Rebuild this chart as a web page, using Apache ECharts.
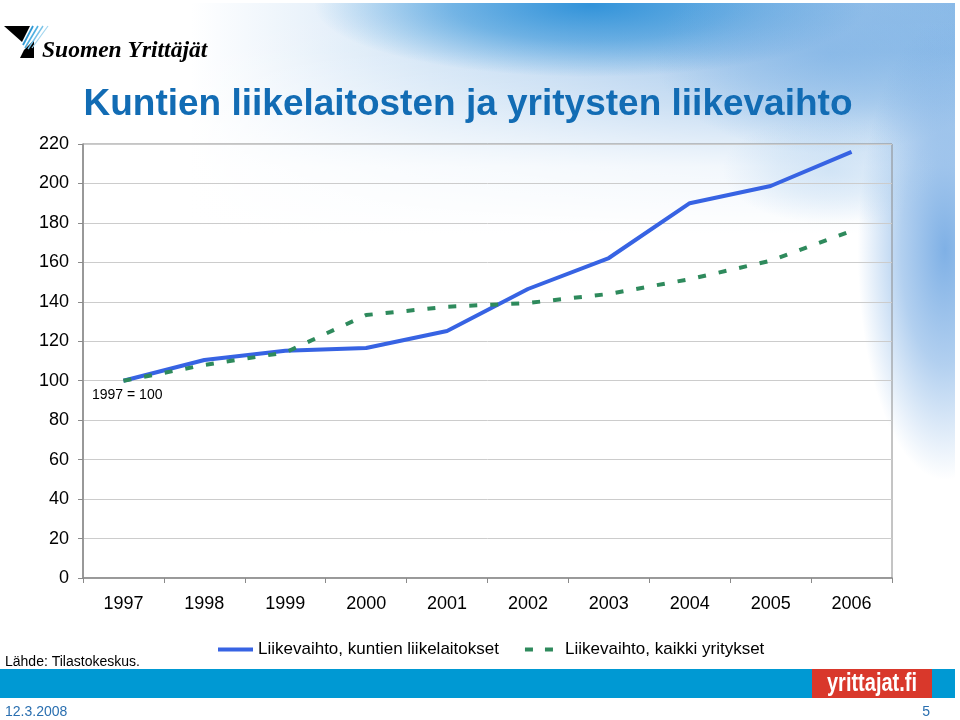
<!DOCTYPE html>
<html>
<head>
<meta charset="utf-8">
<script src="https://cdn.jsdelivr.net/npm/echarts@6/dist/echarts.min.js"></script>
<style>html,body{margin:0;padding:0;background:#fff}#c{width:960px;height:720px}</style>
</head>
<body>
<div id="c"></div>
<script>
const years = ['1997','1998','1999','2000','2001','2002','2003','2004','2005','2006'];
const kuntienLiikelaitokset = [100, 110.5, 115.2, 116.6, 125.2, 146.5, 162.2, 190, 198.7, 216];
const kaikkiYritykset = [100, 108, 114.3, 133.3, 137.5, 139.4, 144, 151.5, 160.8, 176];
const seriesNames = ['Liikevaihto, kuntien liikelaitokset', 'Liikevaihto, kaikki yritykset'];
const yTicks = {min: 0, max: 220, interval: 20};

const chart = echarts.init(document.getElementById('c'));
const F = '"Liberation Sans", Arial, Helvetica, sans-serif';

function blob(cx, cy, r, sx, sy, color, a, z) {
  return {
    type: 'circle', z: z || -18, silent: true, x: cx, y: cy, scaleX: sx, scaleY: sy,
    shape: {cx: 0, cy: 0, r: r},
    style: {fill: {type: 'radial', x: 0.5, y: 0.5, r: 0.5, colorStops: [
      {offset: 0, color: 'rgba(' + color + ',' + a + ')'},
      {offset: 0.5, color: 'rgba(' + color + ',' + (a * 0.6) + ')'},
      {offset: 1, color: 'rgba(' + color + ',0)'}]}}
  };
}

chart.setOption({
  animation: false,
  backgroundColor: '#ffffff',
  graphic: [
    // sky background
    {type: 'rect', z: -22, silent: true, shape: {x: 0, y: 0, width: 955, height: 520},
     style: {fill: {type: 'linear', x: 0, y: 0, x2: 1, y2: 0, colorStops: [
       {offset: 0, color: '#ffffff'},
       {offset: 0.2, color: '#ffffff'},
       {offset: 0.45, color: '#d3e5f6'},
       {offset: 0.7, color: '#b0cfee'},
       {offset: 1, color: '#8cbbe8'}]}}},
    {type: 'rect', z: -21, silent: true, shape: {x: 0, y: 0, width: 955, height: 520},
     style: {fill: {type: 'linear', x: 0, y: 0, x2: 0, y2: 1, colorStops: [
       {offset: 0, color: 'rgba(255,255,255,0)'},
       {offset: 0.1, color: 'rgba(255,255,255,0.05)'},
       {offset: 0.2, color: 'rgba(255,255,255,0.35)'},
       {offset: 0.32, color: 'rgba(255,255,255,0.85)'},
       {offset: 0.45, color: 'rgba(255,255,255,1)'},
       {offset: 1, color: 'rgba(255,255,255,1)'}]}}},
    blob(590, 5, 120, 2.3, 0.6, '35,140,215', 0.9),
    blob(830, 55, 110, 1.6, 0.9, '120,175,228', 0.55),
    blob(945, 250, 230, 0.38, 1, '120,172,228', 0.95),
    blob(830, 170, 90, 1.2, 0.6, '170,205,238', 0.45),
    {type: 'rect', z: -15, silent: true, shape: {x: 955, y: 0, width: 5, height: 720}, style: {fill: '#ffffff'}},
    {type: 'rect', z: -15, silent: true, shape: {x: 0, y: 0, width: 960, height: 3}, style: {fill: '#ffffff'}},
    // logo
    {type: 'polygon', z: 10, shape: {points: [[4,26],[30,26],[22,42]]}, style: {fill: '#000'}},
    {type: 'polygon', z: 10, shape: {points: [[34,40],[34,58],[20,58],[24,50]]}, style: {fill: '#000'}},
    {type: 'polyline', z: 10, shape: {points: [[33,26],[23,45]]}, style: {stroke: '#2f98d4', lineWidth: 1.8}},
    {type: 'polyline', z: 10, shape: {points: [[38,26],[25,48]]}, style: {stroke: '#4fb0e0', lineWidth: 1.6}},
    {type: 'polyline', z: 10, shape: {points: [[43,26],[28,49]]}, style: {stroke: '#78c3e8', lineWidth: 1.4}},
    {type: 'polyline', z: 10, shape: {points: [[48,26],[32,48]]}, style: {stroke: '#a3d6ef', lineWidth: 1.2}},
    {type: 'text', z: 10, style: {text: 'Suomen Yrittäjät', x: 42, y: 51, textVerticalAlign: 'middle',
      font: 'italic bold 23.5px "Liberation Serif", "Times New Roman", serif', fill: '#000'}},
    // title
    {type: 'text', z: 10, style: {text: 'Kuntien liikelaitosten ja yritysten liikevaihto', x: 468, y: 105,
      textAlign: 'center', textVerticalAlign: 'middle', font: 'bold 37px ' + F, fill: '#126cb4'}},
    {type: 'text', z: 10, style: {text: '1997 = 100', x: 92, y: 395, textVerticalAlign: 'middle', font: '14px ' + F, fill: '#000'}},
    {type: 'text', z: 10, style: {text: 'Lähde: Tilastokeskus.', x: 5, y: 662, textVerticalAlign: 'middle', font: '14px ' + F, fill: '#000'}},
    // footer
    {type: 'rect', z: 5, shape: {x: 0, y: 669, width: 955, height: 29}, style: {fill: '#0099d3'}},
    {type: 'rect', z: 6, shape: {x: 812, y: 669, width: 120, height: 29}, style: {fill: '#d9382b'}},
    {type: 'text', z: 10, x: 872, y: 684, scaleX: 0.8,
     style: {text: 'yrittajat.fi', x: 0, y: 0, textAlign: 'center', textVerticalAlign: 'middle',
      font: 'bold 25px ' + F, fill: '#fff'}},
    {type: 'text', z: 10, style: {text: '12.3.2008', x: 5, y: 712, textVerticalAlign: 'middle', font: '14px ' + F, fill: '#2a6fb0'}},
    {type: 'text', z: 10, style: {text: '5', x: 930, y: 712, textAlign: 'right', textVerticalAlign: 'middle', font: '14px ' + F, fill: '#2a6fb0'}}
  ],
  grid: {left: 83, right: 68, top: 144, bottom: 142, show: true, borderColor: '#8a8a8a', borderWidth: 1, backgroundColor: 'transparent'},
  legend: {
    left: 213, top: 636, itemGap: 26, itemWidth: 35, itemHeight: 4,
    textStyle: {fontFamily: F, fontSize: 17, color: '#000'},
    data: [
      {name: seriesNames[0], icon: 'rect'},
      {name: seriesNames[1], icon: 'path://M0,0h8v4h-8z M20,0h8v4h-8z M34.9,1.99h0.1v0.02h-0.1z'}
    ]
  },
  xAxis: {
    type: 'category', data: years, boundaryGap: true,
    axisLine: {lineStyle: {color: '#8a8a8a', width: 1.5}},
    axisTick: {show: true, length: 5, lineStyle: {color: '#8a8a8a'}},
    axisLabel: {fontFamily: F, fontSize: 18, color: '#000', margin: 17}
  },
  yAxis: {
    type: 'value', min: yTicks.min, max: yTicks.max, interval: yTicks.interval,
    axisLine: {show: true, lineStyle: {color: '#8a8a8a', width: 1.5}},
    axisTick: {show: true, length: 5, lineStyle: {color: '#8a8a8a'}},
    axisLabel: {fontFamily: F, fontSize: 18, color: '#000', margin: 14},
    splitLine: {lineStyle: {color: '#cccccc', width: 1}}
  },
  series: [
    {name: seriesNames[0], type: 'line', data: kuntienLiikelaitokset, symbol: 'none', z: 3,
     lineStyle: {color: '#3763e3', width: 4}, itemStyle: {color: '#3763e3'}},
    {name: seriesNames[1], type: 'line', data: kaikkiYritykset, symbol: 'none', z: 4,
     lineStyle: {color: '#2e8a5c', width: 4, type: [8, 13], cap: 'butt'}, itemStyle: {color: '#2e8a5c'}}
  ]
});
</script>
</body>
</html>
